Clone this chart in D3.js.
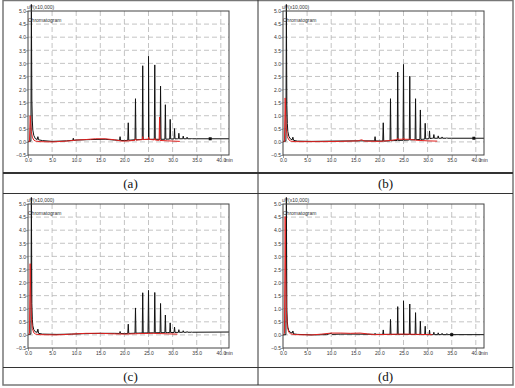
<!DOCTYPE html>
<html>
<head>
<meta charset="utf-8">
<script src="https://cdn.jsdelivr.net/npm/d3@7"></script>
<style>
  body { margin: 0; background: #fff; }
  svg { display: block; }
  .tick-label, .note { font-family: "Liberation Sans", Arial, sans-serif; fill: #333; }
  .cap { font-family: "Liberation Serif", "Times New Roman", serif; fill: #111; }
</style>
</head>
<body>
<svg id="chart" width="515" height="388"></svg>
<script>
// axis ticks
const xTicks = [0, 5, 10, 15, 20, 25, 30, 35, 40]
const yTicks = [-0.5, 0, 0.5, 1, 1.5, 2, 2.5, 3, 3.5, 4, 4.5, 5]
const panelLabels = ['(a)', '(b)', '(c)', '(d)']

// retention times of the peak series (min)
const peakTimes = [19.1, 20.8, 22.3, 23.8, 25.0, 26.3, 27.5, 28.5, 29.5, 30.4, 31.3, 32.2, 33.0, 34.0]

// black trace: peak apex per panel (uV x10,000)
const peaksA = [0.20, 0.73, 1.65, 2.91, 3.27, 2.94, 2.13, 1.42, 0.86, 0.51, 0.33, 0.22, 0.18, 0.14]
const peaksB = [0.20, 0.73, 1.65, 2.67, 2.96, 2.51, 1.65, 1.22, 0.71, 0.42, 0.28, 0.23, 0.19, 0.16]
const peaksC = [0.13, 0.41, 1.03, 1.61, 1.70, 1.62, 1.20, 0.76, 0.46, 0.30, 0.20, 0.16, 0.13, 0.12]
const peaksD = [0.06, 0.19, 0.59, 1.08, 1.30, 1.18, 0.85, 0.52, 0.33, 0.18, 0.10, 0.08, 0.06, 0.05]

// black trace: baseline incl. solvent peak [min, value]
const baseA = [[0, 0.02], [0.6, 0.03], [0.7, 5.25], [0.8, 1.6], [0.9, 0.8], [1.0, 0.45], [1.2, 0.25], [1.5, 0.13], [1.9, 0.09], [2.05, 0.2], [2.2, 0.08], [3, 0.05], [5, 0.02], [8, 0.04], [9.3, 0.06], [9.4, 0.14], [9.5, 0.06], [10, 0.07], [13, 0.09], [16, 0.1], [18, 0.07], [20, 0.05], [22, 0.08], [25, 0.1], [28, 0.1], [31, 0.12], [35, 0.12], [41.7, 0.12]]
const baseB = [[0, 0.02], [0.6, 0.03], [0.7, 5.25], [0.8, 1.4], [0.9, 0.7], [1.0, 0.4], [1.2, 0.22], [1.5, 0.12], [1.9, 0.08], [2.05, 0.18], [2.2, 0.06], [3, 0.03], [6, 0.02], [10, 0.03], [15, 0.04], [19, 0.04], [21, 0.03], [23, 0.05], [26, 0.07], [29, 0.1], [31, 0.14], [35, 0.14], [41.7, 0.14]]
const baseC = [[0, 0.02], [0.6, 0.03], [0.7, 5.25], [0.8, 1.2], [0.9, 0.6], [1.0, 0.35], [1.2, 0.2], [1.5, 0.12], [1.9, 0.1], [2.05, 0.22], [2.2, 0.06], [3, 0.03], [6, 0.02], [9, 0.03], [12, 0.05], [15, 0.06], [18, 0.06], [20, 0.05], [23, 0.07], [26, 0.08], [29, 0.09], [32, 0.1], [41.7, 0.11]]
const baseD = [[0, 0.0], [0.6, 0.01], [0.7, 5.25], [0.8, 1.0], [0.9, 0.5], [1.0, 0.3], [1.2, 0.17], [1.5, 0.1], [1.9, 0.07], [2.05, 0.15], [2.2, 0.04], [3, 0.02], [6, 0.0], [9, 0.01], [10, 0.06], [10.2, 0.02], [12, 0.03], [15, 0.03], [20, 0.02], [25, 0.02], [30, 0.01], [35, 0.01], [41.7, 0.01]]

// red trace [min, value]
const redA = [[0, 0], [0.3, 0.02], [0.45, 1.0], [0.55, 0.7], [0.7, 0.4], [0.9, 0.18], [1.2, 0.07], [1.6, 0.03], [2.5, 0.01], [5, 0], [8, 0.03], [10, 0.07], [12, 0.09], [14, 0.12], [16, 0.12], [18, 0.08], [19.5, 0.03], [21, 0.04], [23, 0.08], [25, 0.1], [27, 0.06], [29, 0.04], [31.5, 0.02]]
const redB = [[0, 0], [0.3, 0.02], [0.45, 1.68], [0.55, 1.0], [0.7, 0.5], [0.9, 0.2], [1.2, 0.08], [1.6, 0.03], [2.5, 0.01], [8, 0.01], [12, 0.02], [15.5, 0.04], [16.3, 0.08], [17, 0.03], [20, 0.02], [22, 0.05], [24, 0.1], [26, 0.1], [28, 0.06], [30, 0.04], [32, 0.03]]
const redC = [[0, 0], [0.3, 0.05], [0.45, 2.72], [0.55, 1.6], [0.7, 0.7], [0.9, 0.25], [1.2, 0.08], [1.6, 0.03], [2.5, 0.01], [6, 0], [9, 0.03], [12, 0.06], [15, 0.06], [18, 0.04], [20, 0.03], [23, 0.05], [26, 0.06], [29, 0.04], [31, 0.03]]
const redD = [[0, 0], [0.3, 0.05], [0.45, 4.52], [0.55, 2.4], [0.7, 0.9], [0.9, 0.3], [1.2, 0.1], [1.6, 0.04], [2.5, 0.01], [6, 0], [8, 0.03], [10, 0.07], [12, 0.07], [14, 0.06], [16, 0.07], [17.5, 0.04], [19, 0.01], [22, 0.02], [25, 0.03], [28, 0.02], [31, 0.01]]

// small red peaks
const redPeakTimesA = [22.3, 23.8, 25.0, 26.3, 27.3]
const redPeaksA = [0.12, 0.2, 0.18, 0.14, 0.95]
const redPeakTimesB = [23.8, 25.0, 26.3]
const redPeaksB = [0.14, 0.15, 0.12]

// event markers on the black trace (min)
const markerTimes = [37.8, 39.6, null, 35.0]

const panels = [
  {label: panelLabels[0], base: baseA, peaks: peaksA, red: redA, redTimes: redPeakTimesA, redPeaks: redPeaksA, marker: markerTimes[0]},
  {label: panelLabels[1], base: baseB, peaks: peaksB, red: redB, redTimes: redPeakTimesB, redPeaks: redPeaksB, marker: markerTimes[1]},
  {label: panelLabels[2], base: baseC, peaks: peaksC, red: redC, redTimes: [], redPeaks: [], marker: markerTimes[2]},
  {label: panelLabels[3], base: baseD, peaks: peaksD, red: redD, redTimes: [], redPeaks: [], marker: markerTimes[3]}
]

const svg = d3.select('#chart')

// table layout
const cellW = 255
const rowTop = [0, 193]
const bandTop = [173, 367]
const plotW = 201
const plotH = 144

const x = d3.scaleLinear().domain([0, 41.7]).range([0, plotW])
const y = d3.scaleLinear().domain([-0.5, 5]).range([plotH, 0])

// merge spikes into a baseline
function trace(base, times, apex, w) {
  const level = d3.scaleLinear().domain(base.map(d => d[0])).range(base.map(d => d[1]))
  const pts = base.slice()
  times.forEach((t, i) => {
    pts.push([t - w, level(t - w)], [t, apex[i]], [t + w, level(t + w)])
  })
  return pts.sort((a, b) => a[0] - b[0])
}

const line = d3.line().x(d => x(d[0])).y(d => y(d[1]))

panels.forEach((p, i) => {
  const col = i % 2
  const row = Math.floor(i / 2)
  const g = svg.append('g')
    .attr('transform', `translate(${28 + col * cellW}, ${rowTop[row] + 11})`)

  // grid
  g.append('g').selectAll('line').data(xTicks.slice(1)).join('line')
    .attr('x1', d => x(d)).attr('x2', d => x(d))
    .attr('y1', 0).attr('y2', plotH)
    .attr('stroke', '#b5b5b5').attr('stroke-width', 0.8).attr('stroke-dasharray', '5,3')
  g.append('g').selectAll('line').data(yTicks.slice(1, -1)).join('line')
    .attr('x1', 0).attr('x2', plotW)
    .attr('y1', d => y(d)).attr('y2', d => y(d))
    .attr('stroke', '#b5b5b5').attr('stroke-width', 0.8).attr('stroke-dasharray', '5,3')

  // axes
  const xAxis = d3.axisBottom(x).tickValues(xTicks).tickSize(3).tickFormat(d3.format('.1f'))
  const yAxis = d3.axisLeft(y).tickValues(yTicks).tickSize(2).tickFormat(d3.format('.1f'))
  const xa = g.append('g').attr('transform', `translate(0, ${plotH})`).call(xAxis)
  const ya = g.append('g').call(yAxis)
  ;[xa, ya].forEach(a => {
    a.select('.domain').remove()
    a.selectAll('line').attr('stroke', '#777').attr('stroke-width', 0.7)
    a.selectAll('text').attr('class', 'tick-label').attr('font-size', 5)
  })
  xa.selectAll('text').attr('y', 7).attr('dy', null)
  ya.selectAll('text').attr('x', -2).attr('dy', '0.35em')
  g.append('text').attr('class', 'tick-label').attr('font-size', 5)
    .attr('x', x(40) + 4).attr('y', plotH + 7).text('min')

  // traces
  g.append('path')
    .attr('d', line(trace(p.base, peakTimes, p.peaks, 0.1)))
    .attr('fill', 'none').attr('stroke', '#111').attr('stroke-width', 1)
  g.append('path')
    .attr('d', line(trace(p.red, p.redTimes, p.redPeaks, 0.1)))
    .attr('fill', 'none').attr('stroke', '#e0201e').attr('stroke-width', 1)

  if (p.marker != null) {
    const level = d3.scaleLinear().domain(p.base.map(d => d[0])).range(p.base.map(d => d[1]))
    g.append('rect')
      .attr('x', x(p.marker) - 1.5).attr('y', y(level(p.marker)) - 1.5)
      .attr('width', 3).attr('height', 3).attr('fill', '#111')
  }

  // frame
  g.append('rect').attr('width', plotW).attr('height', plotH)
    .attr('fill', 'none').attr('stroke', '#444').attr('stroke-width', 1)

  g.append('text').attr('class', 'note').attr('font-size', 5)
    .attr('x', -1).attr('y', -2).text('uV(x10,000)')
  g.append('text').attr('class', 'note').attr('font-size', 5)
    .attr('x', 0).attr('y', 11).text('Chromatogram')

  // caption
  svg.append('text').attr('class', 'cap')
    .attr('x', 3 + col * cellW + cellW / 2)
    .attr('y', bandTop[row] + (row === 0 ? 10 : 9))
    .attr('dy', '0.35em').attr('text-anchor', 'middle').attr('font-size', 13)
    .text(p.label)
})

// table rules
const rules = svg.append('g').attr('fill', 'none')
rules.append('rect').attr('x', 3).attr('y', 0.5).attr('width', 510).attr('height', 384.5)
  .attr('stroke', '#777').attr('stroke-width', 1.5)
rules.append('line').attr('x1', 258).attr('x2', 258).attr('y1', 0).attr('y2', 385)
  .attr('stroke', '#333').attr('stroke-width', 1)
rules.append('line').attr('x1', 3).attr('x2', 513).attr('y1', 173).attr('y2', 173)
  .attr('stroke', '#333').attr('stroke-width', 2)
rules.append('line').attr('x1', 3).attr('x2', 513).attr('y1', 193.5).attr('y2', 193.5)
  .attr('stroke', '#333').attr('stroke-width', 1)
rules.append('line').attr('x1', 3).attr('x2', 513).attr('y1', 367.5).attr('y2', 367.5)
  .attr('stroke', '#333').attr('stroke-width', 1)
</script>
</body>
</html>
